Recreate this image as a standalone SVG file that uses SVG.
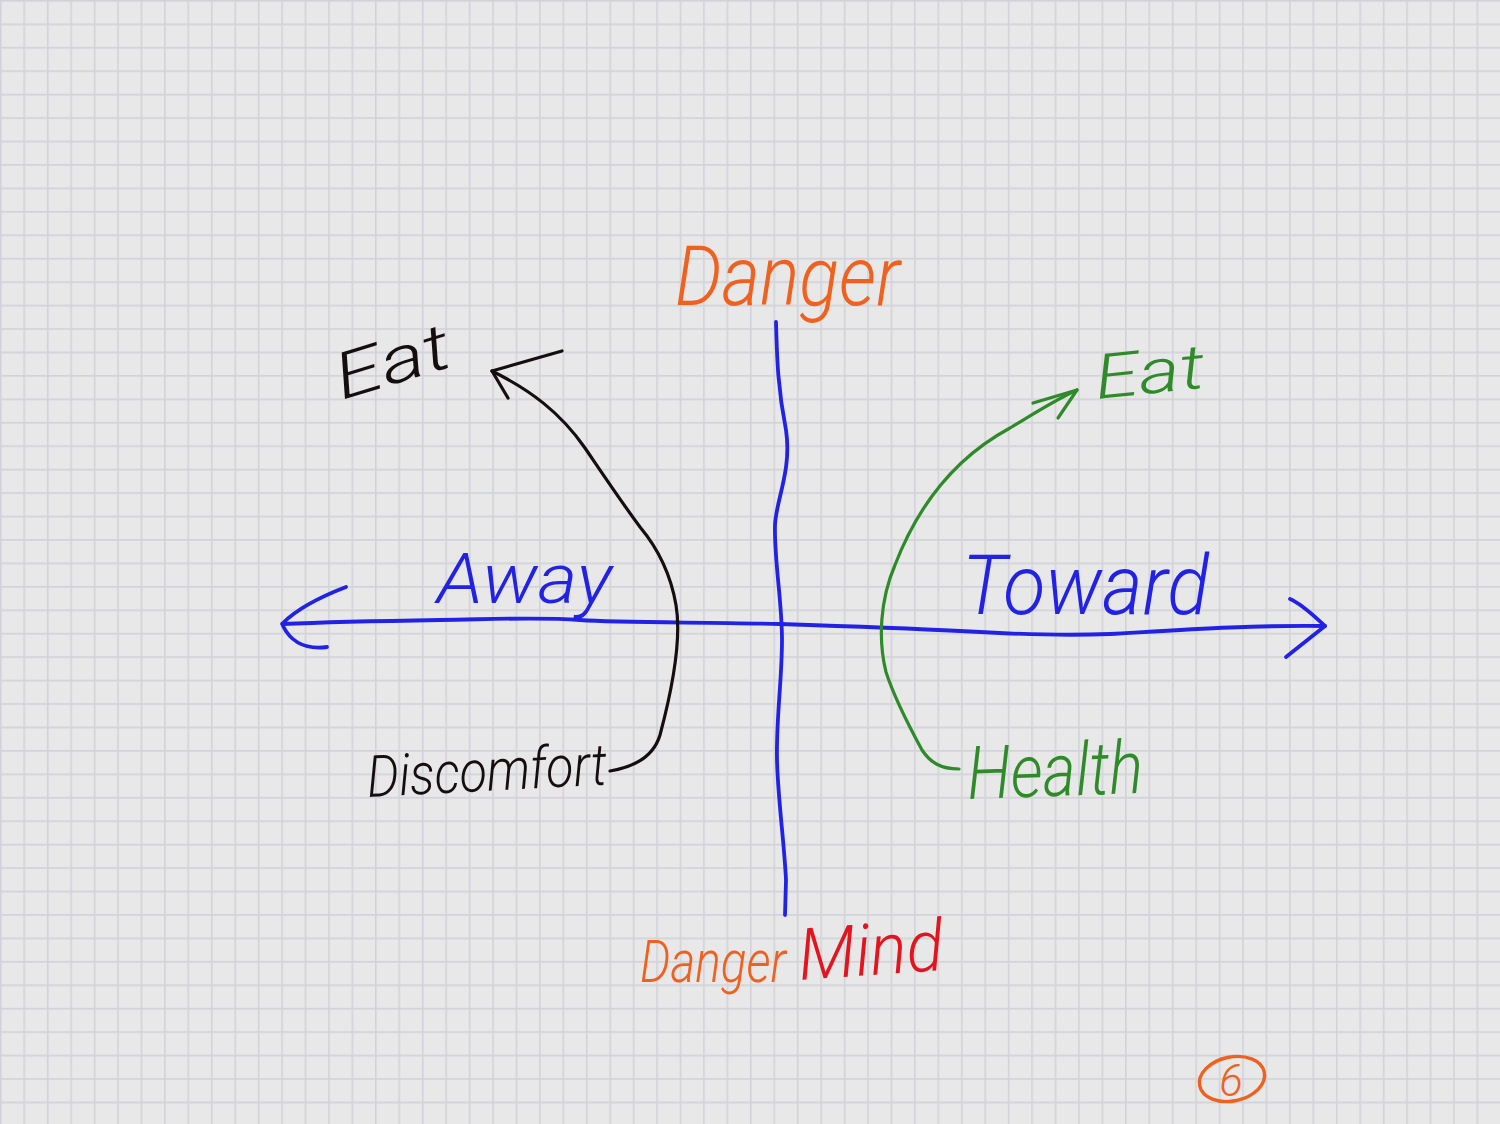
<svg xmlns="http://www.w3.org/2000/svg" width="1500" height="1124" viewBox="0 0 1500 1124">
  <defs>
    <pattern id="grid" x="0" y="0" width="23.4375" height="23.4375" patternUnits="userSpaceOnUse">
      <rect width="23.4375" height="23.4375" fill="#e8e8e8"/>
      <path d="M0.8 0 V23.4375 M0 0.8 H23.4375" stroke="#d2d2da" stroke-width="1.6" fill="none"/>
    </pattern>
    <style>
      .hand { font-family: Roboto, "Open Sans", "Liberation Sans", sans-serif; font-style: italic; font-weight: 300; }
      .blue { fill: #2222e6; }
      .orange { fill: #f0601e; }
      .red { fill: #e3141e; }
      .black { fill: #140e0e; }
      .green { fill: #2f8a2a; }
      .ln { fill: none; stroke-linecap: round; stroke-linejoin: round; }
      .lblue { stroke: #2222e6; stroke-width: 3.8; }
      .lblack { stroke: #140e0e; stroke-width: 3.2; }
      .lgreen { stroke: #2f8a2a; stroke-width: 3.2; }
      .lorange { stroke: #f0601e; stroke-width: 3.4; }
    </style>
  </defs>

  <rect width="1500" height="1124" fill="url(#grid)"/>

  <g id="connectors">
    <!-- horizontal axis -->
    <path class="ln lblue" d="M282,624 C330,622 380,621 440,620 C500,619 540,617 580,620 C620,623 700,622 780,624 C840,626 900,628 960,631 C1010,634 1060,636 1110,634 C1180,630 1250,625 1325,626"/>
    <path class="ln lblue" d="M346,587 C320,597 296,610 283,623 M283,626 C290,640 302,650 327,647"/>
    <path class="ln lblue" d="M1290,599 C1302,604 1314,616 1325,626 L1286,657"/>
    <!-- vertical axis -->
    <path class="ln lblue" d="M776,322 C777,360 778,390 786,430 C792,470 776,500 775,525 C774,560 782,600 782,640 C782,680 776,720 777,760 C778,800 784,840 786,880 L785,915"/>
    <!-- black curve to Eat -->
    <path class="ln lblack" d="M610,771 C640,766 655,752 660,735 C672,690 682,640 676,605 C670,570 655,545 640,527 C620,500 600,470 585,448 C560,412 530,390 492,371"/>
    <path class="ln lblack" d="M562,351 L492,371 L508,398"/>
    <!-- green curve to Eat -->
    <path class="ln lgreen" d="M959,769 C940,769 930,762 922,750 C910,728 895,700 886,672 C878,640 880,600 895,565 C920,500 960,455 1010,428 C1035,413 1055,400 1077,390"/>
    <path class="ln lgreen" d="M1033,403 L1077,390 L1058,418"/>
  </g>

  <g id="node-danger-top">
    <text class="hand orange" x="675" y="305" font-size="84" textLength="225" lengthAdjust="spacingAndGlyphs">Danger</text>
  </g>
  <g id="node-eat-away">
    <text class="hand black" x="342" y="400" font-size="64" textLength="118" lengthAdjust="spacingAndGlyphs" transform="rotate(-17 342 400)">Eat</text>
  </g>
  <g id="node-eat-toward">
    <text class="hand green" x="1097" y="399" font-size="62" textLength="110" lengthAdjust="spacingAndGlyphs" transform="rotate(-6 1097 399)">Eat</text>
  </g>
  <g id="node-away">
    <text class="hand blue" x="437" y="603" font-size="70" textLength="175" lengthAdjust="spacingAndGlyphs">Away</text>
  </g>
  <g id="node-toward">
    <text class="hand blue" x="962" y="614" font-size="84" textLength="247" lengthAdjust="spacingAndGlyphs">Toward</text>
  </g>
  <g id="node-discomfort">
    <text class="hand black" x="368" y="797" font-size="58" textLength="240" lengthAdjust="spacingAndGlyphs" transform="rotate(-3 368 797)">Discomfort</text>
  </g>
  <g id="node-health">
    <text class="hand green" x="968" y="799" font-size="74" textLength="176" lengthAdjust="spacingAndGlyphs" transform="rotate(-2 968 799)">Health</text>
  </g>
  <g id="node-danger-mind">
    <text class="hand orange" x="640" y="982" font-size="60" textLength="146" lengthAdjust="spacingAndGlyphs">Danger</text>
    <text class="hand red" x="800" y="980" font-size="72" textLength="145" lengthAdjust="spacingAndGlyphs" transform="rotate(-4 800 980)">Mind</text>
  </g>
  <g id="node-page-6">
    <ellipse class="ln lorange" cx="1232" cy="1079" rx="33" ry="22" transform="rotate(-12 1232 1079)"/>
    <text class="hand orange" x="1231" y="1096" font-size="44" font-weight="400" text-anchor="middle">6</text>
  </g>
</svg>
